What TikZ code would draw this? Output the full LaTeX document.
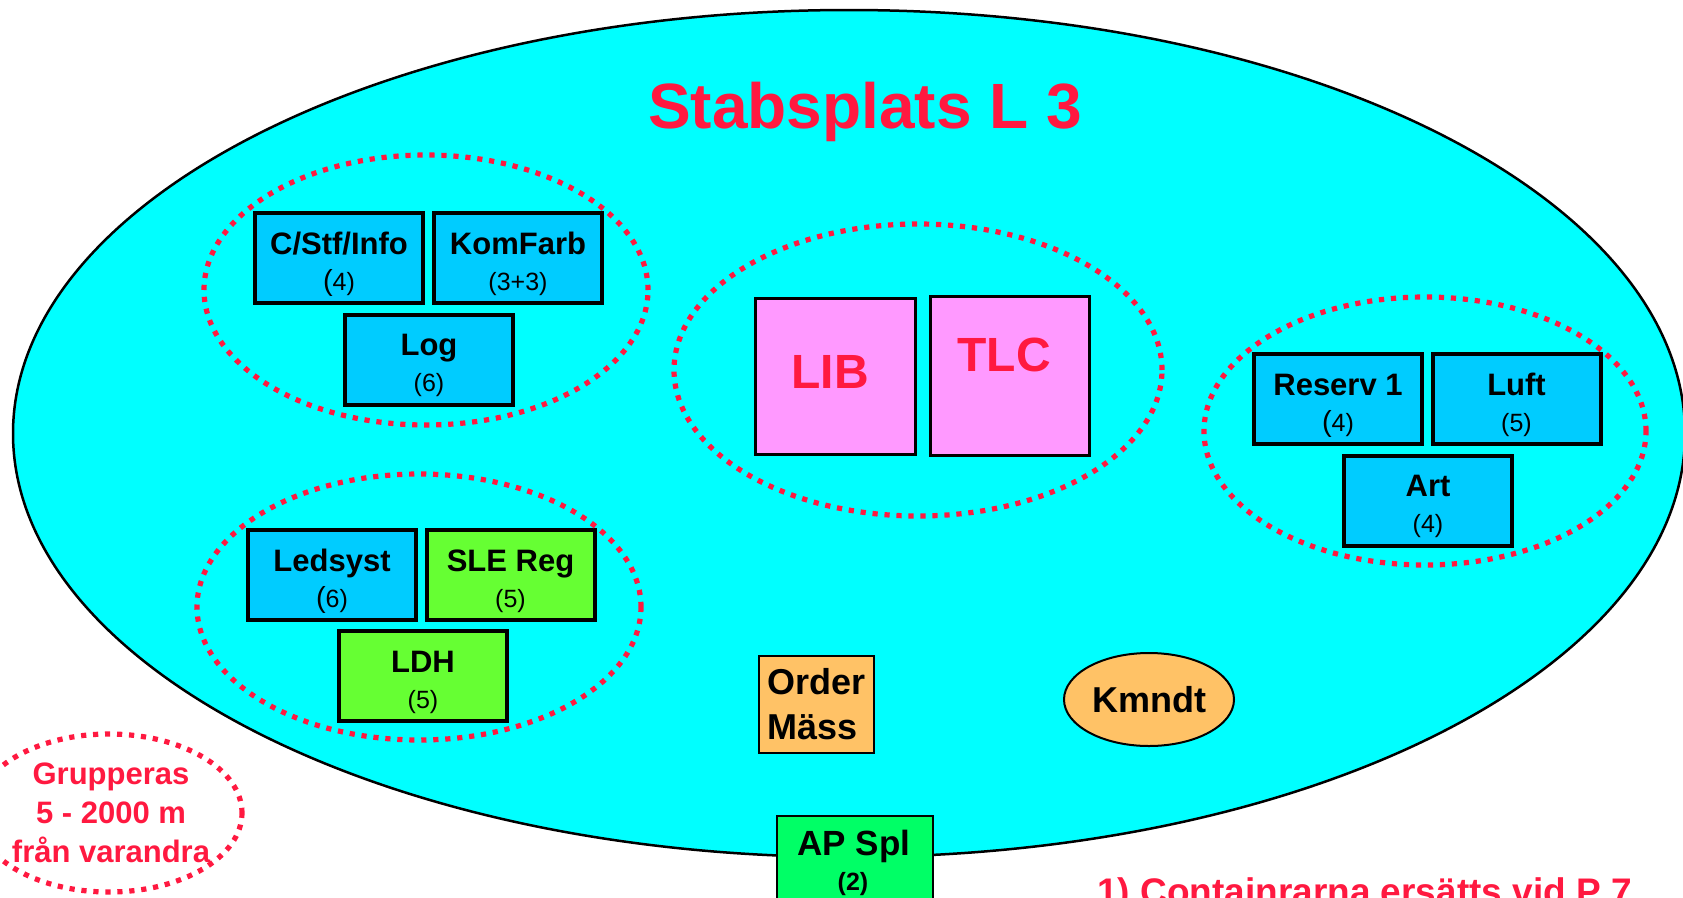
\documentclass[tikz,border=0pt]{standalone}
\usepackage{fontspec}
\setmainfont{Liberation Sans}
\usetikzlibrary{shapes.geometric,calc}
\definecolor{redt}{RGB}{255,25,64}
\definecolor{cyanbg}{RGB}{0,255,255}
\definecolor{bluebox}{RGB}{0,204,255}
\definecolor{pinkbox}{RGB}{255,153,255}
\definecolor{limebox}{RGB}{102,255,51}
\definecolor{apgreen}{RGB}{0,255,102}
\definecolor{orangebox}{RGB}{255,194,102}
\newcommand\fs[1]{\fontsize{#1}{#1}\selectfont}
\newcommand\bp{{\fontsize{29}{29}\selectfont(}}
\tikzset{
  unitbox/.style={draw=black, line width=4pt, minimum width=168pt, minimum height=90pt, inner sep=0pt},
  utitle/.style={font=\fs{31}\bfseries, inner sep=0pt, anchor=base},
  unum/.style={font=\fs{25}, inner sep=0pt, anchor=base},
  grpell/.style={ellipse, draw=redt, line width=5.2pt, dash pattern=on 5.2pt off 6.8pt, inner sep=0pt},
  pinkbx/.style={draw=black, line width=3pt, fill=pinkbox, inner sep=0pt},
  redlbl/.style={text=redt, inner sep=0pt},
}
\newcommand\ubox[6]{%
  \node[unitbox, fill=#4] (#1) at (#2,#3) {};
  \node[utitle] (#1-t) at ($(#1.north)+(0,43)$) {#5};
  \node[unum] (#1-n) at ($(#1.north)+(0,79)$) {#6};
}
\begin{document}
\begin{tikzpicture}[x=1pt,y=-1pt]
\useasboundingbox (0,0) rectangle (1683,897);
% main area
\node[ellipse, draw=black, line width=2.5pt, fill=cyanbg, inner sep=0pt,
      minimum width=1672pt, minimum height=847pt] (stab) at (849,433.5) {};
\node[redlbl, font=\fs{64}\bfseries, anchor=base] (title) at (865,128) {Stabsplats L 3};

% group 1
\ubox{cstf}{339}{258}{bluebox}{C/Stf/Info}{\bp4)}
\ubox{komf}{518}{258}{bluebox}{KomFarb}{(3+3)}
\ubox{log}{429}{359.5}{bluebox}{Log}{(6)}
% group right
\ubox{res}{1338}{399}{bluebox}{Reserv 1}{\bp4)}
\ubox{luft}{1516.5}{399}{bluebox}{Luft}{(5)}
\ubox{art}{1428}{500.5}{bluebox}{Art}{(4)}
% group bottom-left
\ubox{leds}{332}{575}{bluebox}{Ledsyst}{\bp6)}
\ubox{sle}{510.5}{575}{limebox}{SLE Reg}{(5)}
\ubox{ldh}{423}{676}{limebox}{LDH}{(5)}

% LIB / TLC
\node[pinkbx, minimum width=160pt, minimum height=156pt] (lib) at (835.5,376.5) {};
\node[pinkbx, minimum width=159pt, minimum height=159pt] (tlc) at (1010,376) {};
\node[redlbl, font=\fs{48}\bfseries, anchor=base] (lib-t) at (830,388) {LIB};
\node[redlbl, font=\fs{48}\bfseries, anchor=base] (tlc-t) at (1004,371) {TLC};

% dotted group outlines
\node[grpell, minimum width=444pt, minimum height=270pt] (g1) at (426,290) {};
\node[grpell, minimum width=442pt, minimum height=268pt] (g2) at (1425,431) {};
\node[grpell, minimum width=444pt, minimum height=266pt] (g3) at (419,607) {};
\node[grpell, minimum width=488pt, minimum height=292pt] (g4) at (918,370) {};

% Order / Mass
\node[draw=black, line width=2.3pt, fill=orangebox, minimum width=115pt, minimum height=97pt,
      inner sep=0pt, align=left, font={\fontsize{36}{45}\selectfont\bfseries}] (order) at (816.5,704.5) {Order\\Mäss};
% Kmndt
\node[ellipse, draw=black, line width=2pt, fill=orangebox, minimum width=170pt, minimum height=93pt,
      inner sep=0pt, font=\fs{36}\bfseries] (kmndt) at (1149,699.5) {Kmndt};
% AP Spl
\node[draw=black, line width=2.3pt, fill=apgreen, minimum width=156pt, minimum height=90pt, inner sep=0pt] (apspl) at (855,861) {};
\node[font=\fs{35}\bfseries, anchor=base, inner sep=0pt] (apspl-t) at (854,855) {AP Spl};
\node[font=\fs{25}\bfseries, anchor=base, inner sep=0pt] (apspl-n) at (853,890) {(2)};

% Grupperas
\node[grpell, minimum width=266pt, minimum height=158pt] (grp) at (109,813) {};
\node[redlbl, align=center, font={\fontsize{31}{39}\selectfont\bfseries}] (grptxt) at (111,813) {Grupperas\\5 - 2000 m\\från varandra};

% footnote
\node[redlbl, font=\fs{37}\bfseries, anchor=base west] (note) at (1097,904.5) {1) Containrarna ersätts vid P 7};
\end{tikzpicture}
\end{document}
